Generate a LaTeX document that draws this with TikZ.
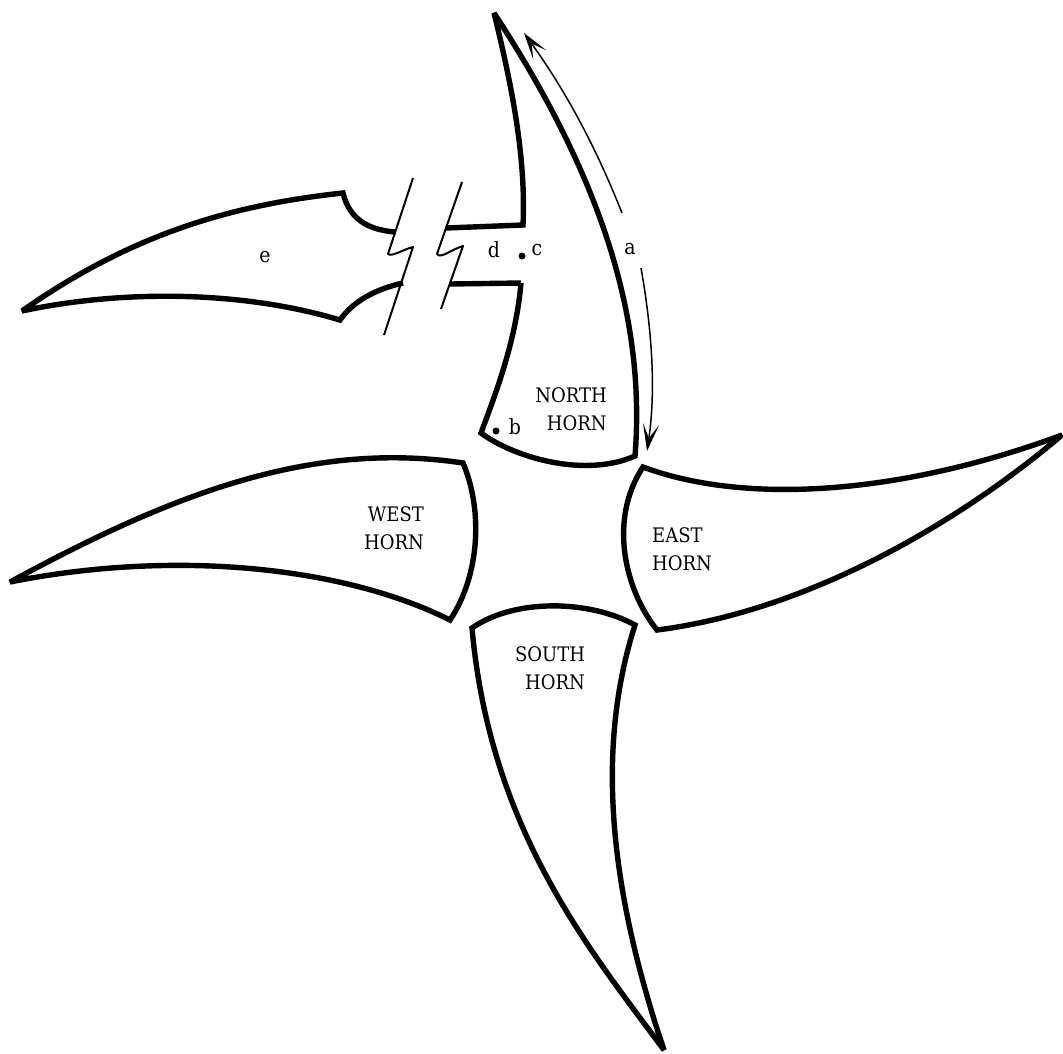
\documentclass[tikz,border=0pt]{standalone}
\usepackage{tikz}
\usepackage{fontspec}
\newfontfamily\typedfont{DejaVu Serif Condensed}
\usetikzlibrary{arrows.meta}

\begin{document}
\begin{tikzpicture}[
  x=1pt,y=-1pt,
  outline/.style={draw=black,line width=5.4pt,line join=miter,miter limit=4},
  band/.style={draw=black,line width=5.4pt},
  breakline/.style={draw=black,line width=2pt,line join=round},
  travel/.style={-{Stealth[length=27pt,width=16pt,inset=14pt]},draw=black,line width=1.5pt},
  hornname/.style={font=\typedfont\fontsize{20}{28}\selectfont,inner sep=0pt},
  letter/.style={font=\typedfont\fontsize{21}{24}\selectfont,inner sep=0pt},
  spot/.style={circle,fill=black,minimum size=7pt,inner sep=0pt}
]
\useasboundingbox (0,0) rectangle (1063,1053);

% North horn.
\draw[outline] (521,283) .. controls (516,340) and (497,390) .. (481,433)
  .. controls (515,458) and (585,478) .. (635,456)
  .. controls (645,330) and (610,190) .. (494,13)
  .. controls (513,90) and (526,160) .. (523,225) -- (446,228);
\draw[band] (521,283) -- (450,284);
\node[hornname,align=right] (northlabel) at (571,409) {NORTH\\HORN};
\node[spot] (pb) at (496,431) {};
\node[letter] (mb) at (515,427) {b};
\node[spot] (pc) at (522,256) {};
\node[letter] (mc) at (537,250) {c};
\node[letter] (md) at (494,250) {d};

% Neck of the north horn.
\draw[outline] (395,232) .. controls (372,230) and (350,222) .. (343,193)
  .. controls (230,205) and (130,235) .. (22,311)
  .. controls (120,290) and (240,290) .. (340,320)
  .. controls (352,303) and (372,290) .. (403,283);
\node[letter] (me) at (265,257) {e};

% Break lines.
\draw[breakline] (413,178) -- (388,254) .. controls (392,257) and (402,250) .. (413,247) -- (384,335);
\draw[breakline] (462,182) -- (437,254) .. controls (441,259) and (450,250) .. (463,246) -- (441,309);

% West horn.
\draw[outline] (450,620) .. controls (480,575) and (483,510) .. (463,463)
  .. controls (310,440) and (170,495) .. (10,582)
  .. controls (170,550) and (340,565) .. cycle;
\node[hornname,align=right] (westlabel) at (394,528) {WEST\\HORN};

% East horn.
\draw[outline] (657,630) .. controls (625,590) and (608,520) .. (643,467)
  .. controls (745,505) and (900,495) .. (1062,435)
  .. controls (950,530) and (800,612) .. cycle;
\node[hornname,align=left] (eastlabel) at (682,549) {EAST\\HORN};

% South horn.
\draw[outline] (472,628) .. controls (515,598) and (590,600) .. (635,625)
  .. controls (595,750) and (610,890) .. (664,1050)
  .. controls (590,950) and (490,830) .. cycle;
\node[hornname,align=right] (southlabel) at (550,668) {SOUTH\\HORN};

% Arc a.
\coordinate (aup) at (622,213);
\coordinate (auptip) at (524,33);
\coordinate (adown) at (641,268);
\coordinate (adowntip) at (647,451);
\draw[travel] (aup) .. controls (595,145) and (565,90) .. (auptip);
\draw[travel] (adown) .. controls (652,330) and (656,390) .. (adowntip);
\node[letter] (ma) at (630,249) {a};
\end{tikzpicture}
\end{document}
